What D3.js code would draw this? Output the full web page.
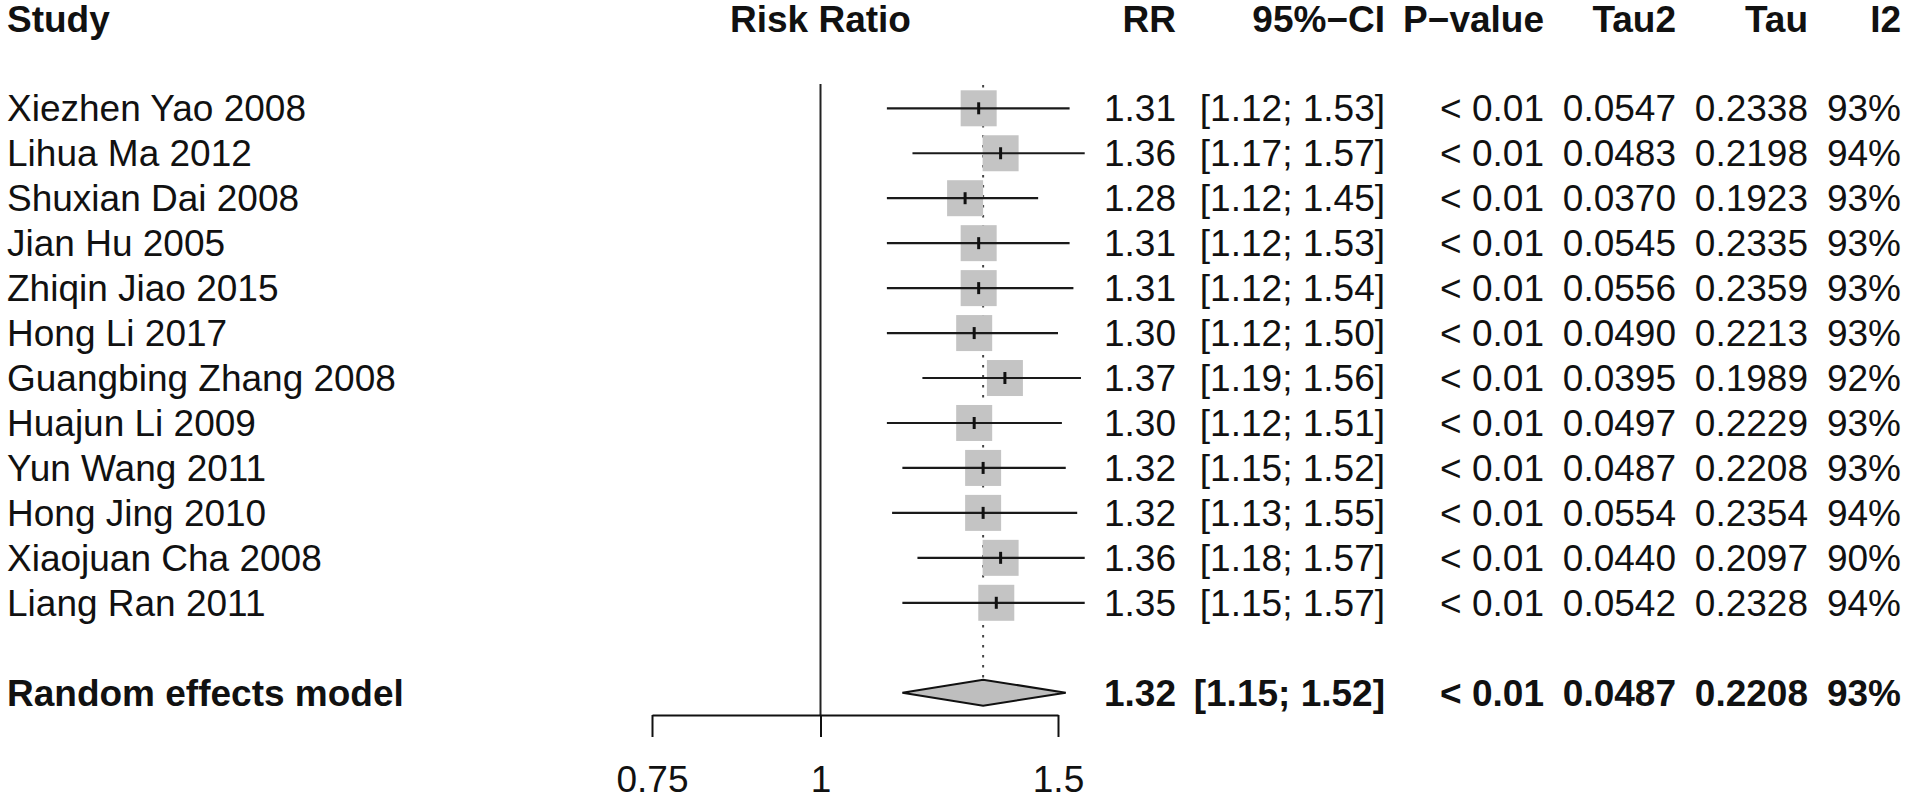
<!DOCTYPE html>
<html>
<head>
<meta charset="utf-8">
<title>Forest plot</title>
<script src="https://cdn.jsdelivr.net/npm/d3@7"></script>
<style>
  body { margin: 0; background: #fff; }
  svg text { font-family: "Liberation Sans", Arial, Helvetica, sans-serif; fill: #111; }
</style>
</head>
<body>
<svg id="chart" width="1908" height="801"></svg>
<script>
// leave-one-out studies
const studies = ["Xiezhen Yao 2008", "Lihua Ma 2012", "Shuxian Dai 2008", "Jian Hu 2005",
                 "Zhiqin Jiao 2015", "Hong Li 2017", "Guangbing Zhang 2008", "Huajun Li 2009",
                 "Yun Wang 2011", "Hong Jing 2010", "Xiaojuan Cha 2008", "Liang Ran 2011"];
const rr    = [1.31, 1.36, 1.28, 1.31, 1.31, 1.30, 1.37, 1.30, 1.32, 1.32, 1.36, 1.35];
const lower = [1.12, 1.17, 1.12, 1.12, 1.12, 1.12, 1.19, 1.12, 1.15, 1.13, 1.18, 1.15];
const upper = [1.53, 1.57, 1.45, 1.53, 1.54, 1.50, 1.56, 1.51, 1.52, 1.55, 1.57, 1.57];
const pval  = ["< 0.01", "< 0.01", "< 0.01", "< 0.01", "< 0.01", "< 0.01",
               "< 0.01", "< 0.01", "< 0.01", "< 0.01", "< 0.01", "< 0.01"];
const tau2  = [0.0547, 0.0483, 0.0370, 0.0545, 0.0556, 0.0490, 0.0395, 0.0497, 0.0487, 0.0554, 0.0440, 0.0542];
const tau   = [0.2338, 0.2198, 0.1923, 0.2335, 0.2359, 0.2213, 0.1989, 0.2229, 0.2208, 0.2354, 0.2097, 0.2328];
const i2    = [93, 94, 93, 93, 93, 93, 92, 93, 93, 94, 90, 94];

// pooled estimate
const pooled = {label: "Random effects model", rr: 1.32, lower: 1.15, upper: 1.52,
                p: "< 0.01", tau2: 0.0487, tau: 0.2208, i2: 93};

const xTicks = [0.75, 1, 1.5];
const headers = ["RR", "95%\u2212CI", "P\u2212value", "Tau2", "Tau", "I2"];

const svg = d3.select("#chart");
const fs = 37;

let x = d3.scaleLog().domain([0.75, 1.5]).range([652, 1058]);
let y = d3.scaleLinear().domain([0, 13]).range([108.3, 692.7]);
const axisY = 715;

let rows = studies.map((s, i) => ({
    label: s, rr: rr[i], lower: lower[i], upper: upper[i],
    p: pval[i], tau2: tau2[i], tau: tau[i], i2: i2[i], idx: i
}));
pooled.idx = 13;

// reference line at 1
svg.append("line")
    .attr("x1", x(1)).attr("x2", x(1))
    .attr("y1", 84).attr("y2", axisY)
    .attr("stroke", "#222").attr("stroke-width", 2);

// pooled estimate dotted line
svg.append("line")
    .attr("x1", x(pooled.rr)).attr("x2", x(pooled.rr))
    .attr("y1", 85).attr("y2", y(pooled.idx) - 13)
    .attr("stroke", "#444").attr("stroke-width", 2)
    .attr("stroke-dasharray", "2.5,7.5");

// squares
const sq = 36;
svg.append("g").selectAll("rect")
    .data(rows)
    .join("rect")
        .attr("x", d => x(d.rr) - sq / 2)
        .attr("y", d => y(d.idx) - sq / 2)
        .attr("width", sq).attr("height", sq)
        .attr("fill", "#c4c4c4");

// CI lines
svg.append("g").selectAll("line")
    .data(rows)
    .join("line")
        .attr("x1", d => x(d.lower)).attr("x2", d => x(d.upper))
        .attr("y1", d => y(d.idx)).attr("y2", d => y(d.idx))
        .attr("stroke", "#1a1a1a").attr("stroke-width", 2.2);

// estimate ticks
svg.append("g").selectAll("line")
    .data(rows)
    .join("line")
        .attr("x1", d => x(d.rr)).attr("x2", d => x(d.rr))
        .attr("y1", d => y(d.idx) - 6).attr("y2", d => y(d.idx) + 6)
        .attr("stroke", "#111").attr("stroke-width", 3);

// diamond
const py = y(pooled.idx);
svg.append("path")
    .attr("d", `M${x(pooled.lower)},${py} L${x(pooled.rr)},${py - 13} L${x(pooled.upper)},${py} L${x(pooled.rr)},${py + 13} Z`)
    .attr("fill", "#bebebe").attr("stroke", "#111").attr("stroke-width", 2);

// x axis
let axis = svg.append("g")
    .attr("transform", `translate(0,${axisY})`)
    .call(d3.axisBottom(x).tickValues(xTicks).tickFormat(d => String(d))
        .tickSize(22).tickSizeOuter(0).tickPadding(28.5));
axis.select(".domain").attr("stroke", "#111").attr("stroke-width", 2);
axis.selectAll(".tick line").attr("stroke", "#111").attr("stroke-width", 2);
axis.selectAll(".tick text")
    .attr("font-size", fs).attr("font-family", "Liberation Sans, Arial, sans-serif").attr("fill", "#111");

// header
const headY = 32;
svg.append("text").attr("x", 7).attr("y", headY).attr("font-size", fs).attr("font-weight", "bold").text("Study");
svg.append("text").attr("x", x(1)).attr("y", headY).attr("font-size", fs).attr("font-weight", "bold")
    .attr("text-anchor", "middle").text("Risk Ratio");

const colRight = [1176, 1385, 1544, 1676, 1808, 1901];
svg.append("g").selectAll("text")
    .data(headers)
    .join("text")
        .attr("x", (d, i) => colRight[i]).attr("y", headY)
        .attr("text-anchor", "end").attr("font-size", fs).attr("font-weight", "bold")
        .text(d => d);

// row texts
function cells(d) {
    return [d.rr.toFixed(2),
            "[" + d.lower.toFixed(2) + "; " + d.upper.toFixed(2) + "]",
            d.p, d.tau2.toFixed(4), d.tau.toFixed(4), d.i2 + "%"];
}
const allRows = rows.concat([pooled]);
const base = 13;

let rowG = svg.append("g").selectAll("g")
    .data(allRows)
    .join("g")
        .attr("font-weight", d => d.idx === 13 ? "bold" : "normal");

rowG.append("text")
    .attr("x", 7).attr("y", d => y(d.idx) + base)
    .attr("font-size", fs)
    .text(d => d.label);

rowG.selectAll("text.cell")
    .data(d => cells(d).map(v => ({v: v, idx: d.idx})))
    .join("text")
        .attr("class", "cell")
        .attr("x", (d, i) => colRight[i]).attr("y", d => y(d.idx) + base)
        .attr("text-anchor", "end").attr("font-size", fs)
        .text(d => d.v);
</script>
</body>
</html>
